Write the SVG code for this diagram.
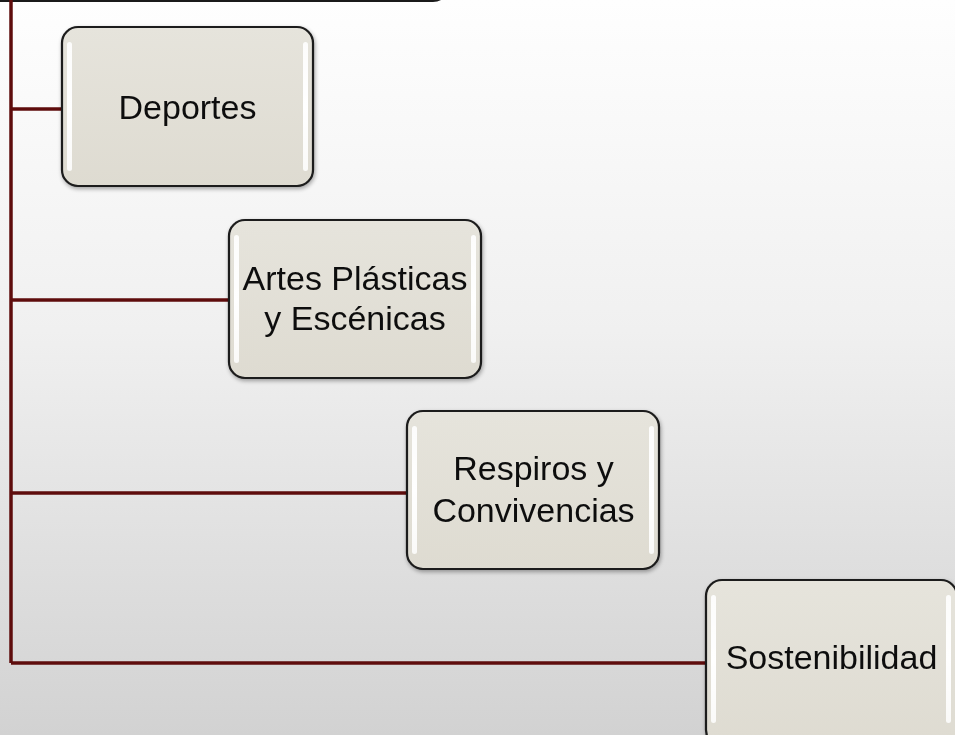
<svg xmlns="http://www.w3.org/2000/svg" width="955" height="735" viewBox="0 0 955 735">
<defs>
<linearGradient id="bg" x1="0" y1="0" x2="0" y2="1">
<stop offset="0" stop-color="#fefefe"/>
<stop offset="0.45" stop-color="#f0f0f0"/>
<stop offset="1" stop-color="#d2d2d2"/>
</linearGradient>
<linearGradient id="box" x1="0" y1="0" x2="0" y2="1">
<stop offset="0" stop-color="#e6e4dc"/>
<stop offset="1" stop-color="#dedbd1"/>
</linearGradient>
<linearGradient id="hl" x1="0" y1="0" x2="0" y2="1">
<stop offset="0" stop-color="#ffffff" stop-opacity="0.9"/>
<stop offset="0.5" stop-color="#ffffff" stop-opacity="1"/>
<stop offset="1" stop-color="#ffffff" stop-opacity="0.85"/>
</linearGradient>
<filter id="sh" x="-10%" y="-10%" width="130%" height="130%">
<feGaussianBlur in="SourceAlpha" stdDeviation="2"/>
<feOffset dx="1" dy="2" result="b"/>
<feComponentTransfer><feFuncA type="linear" slope="0.35"/></feComponentTransfer>
<feMerge><feMergeNode/><feMergeNode in="SourceGraphic"/></feMerge>
</filter>
</defs>
<style>
.node{fill:url(#box);stroke:#1a1a1a;stroke-width:2.2;}
.hl{fill:url(#hl);}
.lbl{font-family:"Liberation Sans",Arial,sans-serif;font-size:34px;fill:#111111;text-anchor:middle;}
.con{fill:none;stroke:#5e0c0c;stroke-width:3.5;}
</style>
<rect x="0" y="0" width="955" height="735" fill="url(#bg)"/>
<g id="root">
<rect x="-20" y="-160" width="468" height="161" rx="15" fill="#6e2a2a" stroke="#1a1a1a" stroke-width="2.2"/>
</g>
<g id="connectors">
<path class="con" d="M11,0 V663"/>
<path class="con" d="M11,109 H62"/>
<path class="con" d="M11,300 H229"/>
<path class="con" d="M11,493 H407"/>
<path class="con" d="M11,663 H706"/>
</g>
<g id="deportes" filter="url(#sh)">
<rect class="node" x="62" y="27" width="251" height="159" rx="16"/>
<rect class="hl" x="67" y="42" width="5" height="129" rx="2.5"/>
<rect class="hl" x="303" y="42" width="5" height="129" rx="2.5"/>
<text class="lbl" x="187.5" y="119">Deportes</text>
</g>
<g id="artes" filter="url(#sh)">
<rect class="node" x="229" y="220" width="252" height="158" rx="16"/>
<rect class="hl" x="234" y="235" width="5" height="128" rx="2.5"/>
<rect class="hl" x="471" y="235" width="5" height="128" rx="2.5"/>
<text class="lbl" x="355" y="290">Artes Plásticas</text>
<text class="lbl" x="355" y="330">y Escénicas</text>
</g>
<g id="respiros" filter="url(#sh)">
<rect class="node" x="407" y="411" width="252" height="158" rx="16"/>
<rect class="hl" x="412" y="426" width="5" height="128" rx="2.5"/>
<rect class="hl" x="649" y="426" width="5" height="128" rx="2.5"/>
<text class="lbl" x="533.5" y="480">Respiros y</text>
<text class="lbl" x="533.5" y="522">Convivencias</text>
</g>
<g id="sostenibilidad" filter="url(#sh)">
<rect class="node" x="706" y="580" width="251" height="166" rx="16"/>
<rect class="hl" x="711" y="595" width="5" height="128" rx="2.5"/>
<rect class="hl" x="946" y="595" width="5" height="128" rx="2.5"/>
<text class="lbl" x="831.5" y="669">Sostenibilidad</text>
</g>
</svg>
